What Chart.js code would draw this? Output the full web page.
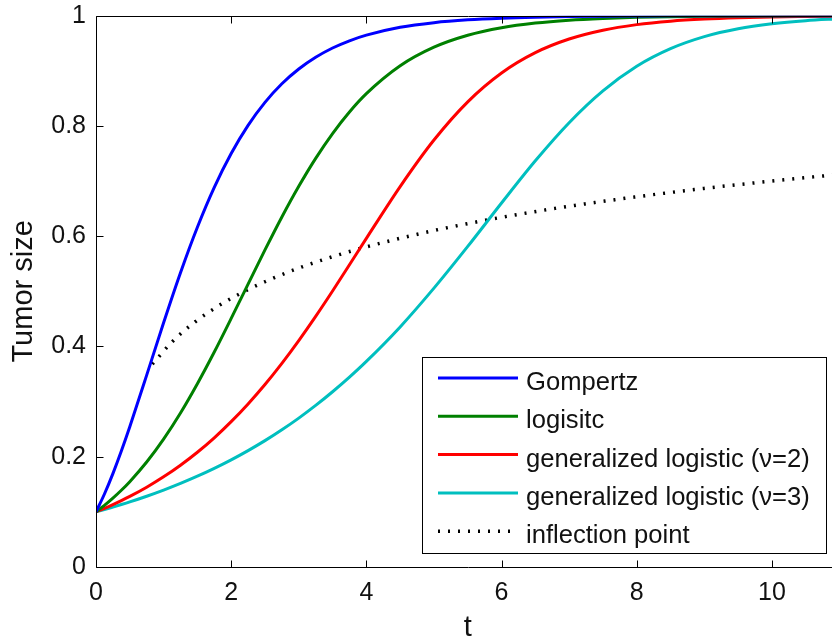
<!DOCTYPE html>
<html><head><meta charset="utf-8">
<script src="https://cdn.jsdelivr.net/npm/chart.js@4/dist/chart.umd.min.js"></script>
<style>html,body{margin:0;padding:0;overflow:hidden;background:#fff;width:832px;height:641px;}canvas{display:block;}</style>
</head><body>
<canvas id="c" width="842" height="641"></canvas>
<script>
// time points (t)
const tValues = [0,0.125,0.25,0.375,0.5,0.75,1,1.25,1.5,1.75,2,2.25,2.5,2.75,3,3.25,3.5,3.75,4,4.5,5,5.5,6,6.5,7,7.5,8,8.5,9,9.5,10,10.5,11];
// tumor size
const gompertz = [0.1,0.1324,0.1694,0.2103,0.2544,0.3480,0.4431,0.5339,0.6164,0.6887,0.7501,0.8011,0.8428,0.8765,0.9033,0.9246,0.9414,0.9545,0.9647,0.9789,0.9874,0.9925,0.9955,0.9973,0.9984,0.9991,0.9994,0.9997,0.9998,0.9999,0.9999,1.0,1.0];
const logistic = [0.1,0.1118,0.1249,0.1392,0.1548,0.1904,0.2320,0.2794,0.3325,0.3900,0.4509,0.5132,0.5751,0.6349,0.6906,0.7413,0.7863,0.8253,0.8585,0.9091,0.9428,0.9645,0.9782,0.9867,0.9919,0.9950,0.9970,0.9982,0.9989,0.9993,0.9996,0.9998,0.9998];
const genLogistic2 = [0.1,0.1064,0.1132,0.1204,0.1280,0.1447,0.1635,0.1846,0.2081,0.2343,0.2636,0.2958,0.3310,0.3694,0.4107,0.4546,0.5006,0.5482,0.5961,0.6901,0.7745,0.8438,0.8961,0.9330,0.9577,0.9737,0.9838,0.9901,0.9939,0.9963,0.9978,0.9986,0.9992];
const genLogistic3 = [0.1,0.1042,0.1087,0.1133,0.1181,0.1284,0.1395,0.1516,0.1647,0.1789,0.1943,0.2111,0.2292,0.2489,0.2701,0.2931,0.3179,0.3444,0.3729,0.4355,0.5058,0.5815,0.6602,0.7368,0.8059,0.8636,0.9083,0.9402,0.9620,0.9763,0.9853,0.9910,0.9945];
// inflection point locus
const inflectionT = [0.834,1.136,1.464,1.819,2.197,2.597,3.016,3.452,3.902,4.837,5.808,6.806,7.824,8.857,9.903,10.959,12.024];
const inflectionY = [0.368,0.4096,0.4444,0.4742,0.5,0.5227,0.5429,0.5610,0.5774,0.6059,0.63,0.6507,0.6687,0.6847,0.6988,0.7116,0.7230];
// axis ticks
const xTicks = [0,2,4,6,8,10];
const xTickLabels = ['0','2','4','6','8','10'];
const yTicks = [0,0.2,0.4,0.6,0.8,1];
const yTickLabels = ['0','0.2','0.4','0.6','0.8','1'];
const seriesLabels = ['Gompertz','logisitc','generalized logistic (\u03bd=2)','generalized logistic (\u03bd=3)','inflection point'];

const FONT = '"Liberation Sans", Arial, Helvetica, sans-serif';
const TXT = '#111';

function pts(xs, ys){ return xs.map((x,i)=>({x:x, y:ys[i]})); }

const boxPlugin = {
  id:'axesBox',
  afterDraw(chart){
    const {ctx, chartArea:a, scales} = chart;
    const L = Math.round(a.left)+0.5, R = Math.round(a.right)+0.5, T = Math.round(a.top)+0.5, B = Math.round(a.bottom)+0.5;
    const tl = 7;
    ctx.save();
    ctx.strokeStyle = '#000'; ctx.lineWidth = 1;
    ctx.beginPath();
    ctx.rect(L, T, R-L, B-T);
    xTicks.forEach(v=>{
      const p = Math.round(scales.x.getPixelForValue(v))+0.5;
      ctx.moveTo(p,B); ctx.lineTo(p,B-tl);
      ctx.moveTo(p,T); ctx.lineTo(p,T+tl);
    });
    yTicks.forEach(v=>{
      const p = Math.round(scales.y.getPixelForValue(v))+0.5;
      ctx.moveTo(L,p); ctx.lineTo(L+tl,p);
      ctx.moveTo(R,p); ctx.lineTo(R-tl,p);
    });
    ctx.stroke();
    ctx.restore();
  }
};

const legendPlugin = {
  id:'boxLegend',
  afterDatasetsDraw(chart, args, o){
    const ctx = chart.ctx;
    ctx.save();
    ctx.fillStyle = '#fff';
    ctx.fillRect(o.left, o.top, o.right-o.left, o.bottom-o.top);
    ctx.strokeStyle = '#000'; ctx.lineWidth = 1;
    ctx.strokeRect(o.left+0.5, o.top+0.5, o.right-o.left, o.bottom-o.top);
    chart.data.datasets.forEach((ds,i)=>{
      const y = o.rowY0 + i*o.rowStep;
      ctx.beginPath();
      ctx.strokeStyle = ds.borderColor;
      ctx.lineWidth = ds.borderWidth;
      ctx.setLineDash(ds.borderDash || []);
      ctx.moveTo(o.lineX0, y); ctx.lineTo(o.lineX1, y);
      ctx.stroke();
      ctx.setLineDash([]);
      ctx.fillStyle = TXT;
      ctx.font = o.fontSize + 'px ' + FONT;
      ctx.textAlign = 'left'; ctx.textBaseline = 'alphabetic';
      ctx.fillText(ds.label, o.textX, y + o.textDy);
    });
    ctx.restore();
  }
};

new Chart(document.getElementById('c'), {
  type:'line',
  data:{datasets:[
    {label:seriesLabels[0], data:pts(tValues,gompertz), borderColor:'#0000ff', borderWidth:3},
    {label:seriesLabels[1], data:pts(tValues,logistic), borderColor:'#008000', borderWidth:3},
    {label:seriesLabels[2], data:pts(tValues,genLogistic2), borderColor:'#ff0000', borderWidth:3},
    {label:seriesLabels[3], data:pts(tValues,genLogistic3), borderColor:'#00bfbf', borderWidth:3},
    {label:seriesLabels[4], data:pts(inflectionT,inflectionY), borderColor:'#000000', borderWidth:3.5, borderDash:[2,8]}
  ]},
  options:{
    responsive:false, animation:false, devicePixelRatio:1,
    layout:{padding:{left:0,right:2.5,top:15.7,bottom:0}},
    elements:{point:{radius:0}, line:{cubicInterpolationMode:'monotone', fill:false}},
    plugins:{
      legend:{display:false}, tooltip:{enabled:false},
      boxLegend:{left:422,top:357,right:826,bottom:553,lineX0:438,lineX1:518,textX:526,rowY0:378,rowStep:38.3,textDy:12,fontSize:25.6}
    },
    scales:{
      x:{type:'linear', min:0, max:11,
        afterBuildTicks:s=>{ s.ticks = xTicks.map(v=>({value:v})); },
        afterFit:s=>{ s.height = 74; },
        grid:{display:false, drawTicks:false}, border:{display:false},
        ticks:{padding:11, color:TXT, font:{family:FONT,size:25}, maxRotation:0, autoSkip:false,
          callback:(v,i)=>xTickLabels[i]},
        title:{display:true, text:'t', color:TXT, font:{family:FONT,size:29}, padding:{top:0,bottom:-4}}
      },
      y:{type:'linear', min:0, max:1,
        afterBuildTicks:s=>{ s.ticks = yTicks.map(v=>({value:v})); },
        afterFit:s=>{ s.width = 96; },
        grid:{display:false, drawTicks:false}, border:{display:false},
        ticks:{padding:10, color:TXT, font:{family:FONT,size:25,lineHeight:0.45}, autoSkip:false,
          callback:(v,i)=>yTickLabels[i]},
        title:{display:true, text:'Tumor size', color:TXT, font:{family:FONT,size:29}, padding:{top:7,bottom:0}}
      }
    }
  },
  plugins:[legendPlugin, boxPlugin]
});
</script>
</body></html>
